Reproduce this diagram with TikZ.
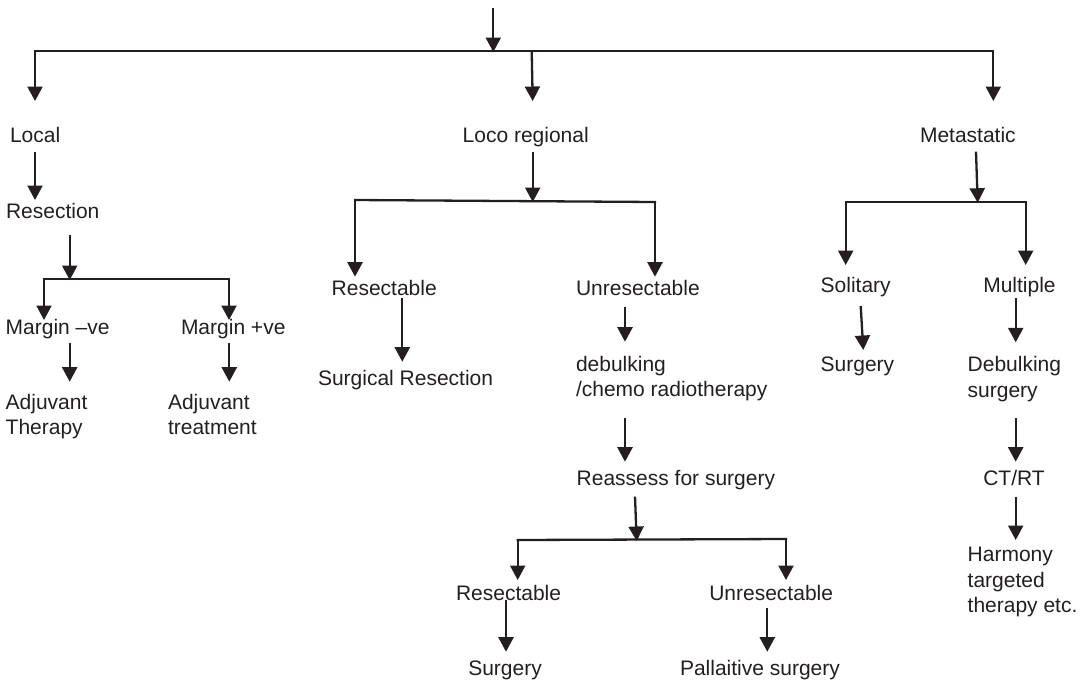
\documentclass[tikz,border=0pt]{standalone}
\usepackage{fontspec}
\setmainfont{Liberation Sans}
\usetikzlibrary{arrows.meta}
\definecolor{ink}{RGB}{35,31,32}
\tikzset{
  lbl/.style={anchor=base west, inner sep=0pt, outer sep=0pt, text=ink,
    font=\fontsize{21}{25.5}\selectfont, align=left},
  arr/.style={draw=ink, line width=2.3pt, -{Triangle[width=15pt,length=14.5pt]}},
  bus/.style={draw=ink, line width=2.3pt, line cap=rect},
}
\begin{document}
\begin{tikzpicture}[x=1pt,y=-1pt]
\useasboundingbox (0,0) rectangle (1085,683);
% ---- text nodes (multi-line nodes are placed at their last baseline)
\node[lbl] (local) at (10,142.7) {Local};
\node[lbl] (loco) at (462.7,142.7) {Loco regional};
\node[lbl] (meta) at (920,142.7) {Metastatic};
\node[lbl] (resection) at (6,218.3) {Resection};
\node[lbl] (mneg) at (5.7,334) {Margin –ve};
\node[lbl] (mpos) at (181,334) {Margin +ve};
\node[lbl] (adj1) at (5.7,434.5) {Adjuvant\\Therapy};
\node[lbl] (adj2) at (168,434.5) {Adjuvant\\treatment};
\node[lbl] (res1) at (331.7,295) {Resectable};
\node[lbl] (unres1) at (576,295) {Unresectable};
\node[lbl] (surgres) at (318,385) {Surgical Resection};
\node[lbl] (debulk) at (576,396.5) {debulking\\/chemo radiotherapy};
\node[lbl] (reassess) at (576.7,485) {Reassess for surgery};
\node[lbl] (res2) at (456,600) {Resectable};
\node[lbl] (unres2) at (709.3,600) {Unresectable};
\node[lbl] (surg2) at (468.3,675) {Surgery};
\node[lbl] (pall) at (680,675) {Pallaitive surgery};
\node[lbl] (solitary) at (820.7,292.7) {Solitary};
\node[lbl] (multiple) at (983.3,292.7) {Multiple};
\node[lbl] (surg3) at (820.7,371.7) {Surgery};
\node[lbl] (debsurg) at (967.7,397) {Debulking\\surgery};
\node[lbl] (ctrt) at (983.3,485) {CT/RT};
\node[lbl] (harmony) at (967.7,612.7) {Harmony\\targeted\\therapy etc.};
% ---- connector points
\coordinate (top0) at (493.3,8);   \coordinate (top1) at (493.3,52);
\coordinate (b1L) at (35,51);      \coordinate (b1R) at (993.3,51);
\coordinate (b1M) at (531.7,51);
\coordinate (localin) at (35,101); \coordinate (locoin) at (532.7,101);
\coordinate (metain) at (993.3,101);
\coordinate (localout) at (35,151.7); \coordinate (resin) at (35,200);
\coordinate (resout) at (69.7,235); \coordinate (b2M) at (69.7,280);
\coordinate (b2L) at (44,279);     \coordinate (b2R) at (229,279);
\coordinate (mnegin) at (44,320);  \coordinate (mposin) at (229,320);
\coordinate (mnegout) at (69.7,343); \coordinate (adj1in) at (69.7,381.7);
\coordinate (mposout) at (229.3,343); \coordinate (adj2in) at (229.3,381.7);
\coordinate (locoout) at (532.7,151.7); \coordinate (b3M) at (532.7,202);
\coordinate (b3L) at (355,200);    \coordinate (b3R) at (655,202);
\coordinate (res1in) at (355,276.7); \coordinate (unres1in) at (655,276.7);
\coordinate (res1out) at (402.3,298); \coordinate (surgresin) at (402.3,361.7);
\coordinate (unres1out) at (625,306.7); \coordinate (debulkin) at (625,341.7);
\coordinate (debulkout) at (625,418); \coordinate (reassin) at (625,461.7);
\coordinate (reassout) at (635,496.7); \coordinate (b4M) at (636.7,541);
\coordinate (b4L) at (517.7,540);  \coordinate (b4R) at (786,539);
\coordinate (res2in) at (517.7,580); \coordinate (unres2in) at (786,580);
\coordinate (res2out) at (506,600); \coordinate (surg2in) at (506,651.7);
\coordinate (unres2out) at (767.3,608.3); \coordinate (pallin) at (767.3,651.7);
\coordinate (metaout) at (976,151.7); \coordinate (b5M) at (977.7,202.7);
\coordinate (b5L) at (845.7,201.7); \coordinate (b5R) at (1025.7,201.7);
\coordinate (solin) at (845.7,265); \coordinate (mulin) at (1025.7,265);
\coordinate (solout) at (860.7,306); \coordinate (surg3in) at (863.3,350);
\coordinate (mulout) at (1015.7,298.3); \coordinate (debsin) at (1015.7,342.3);
\coordinate (debsout) at (1015.7,418.3); \coordinate (ctrtin) at (1015.7,461.7);
\coordinate (ctrtout) at (1015.7,496.7); \coordinate (harmin) at (1015.7,540);
% ---- buses
\draw[bus] (b1L) -- (b1R);
\draw[bus] (b2L) -- (b2R);
\draw[bus] (b3L) -- (b3R);
\draw[bus] (b4L) -- (b4R);
\draw[bus] (b5L) -- (b5R);
% ---- arrows
\draw[arr] (top0) -- (top1);
\draw[arr] (b1L) -- (localin);
\draw[arr] (b1M) -- (locoin);
\draw[arr] (b1R) -- (metain);
\draw[arr] (localout) -- (resin);
\draw[arr] (resout) -- (b2M);
\draw[arr] (b2L) -- (mnegin);
\draw[arr] (b2R) -- (mposin);
\draw[arr] (mnegout) -- (adj1in);
\draw[arr] (mposout) -- (adj2in);
\draw[arr] (locoout) -- (b3M);
\draw[arr] (b3L) -- (res1in);
\draw[arr] (b3R) -- (unres1in);
\draw[arr] (res1out) -- (surgresin);
\draw[arr] (unres1out) -- (debulkin);
\draw[arr] (debulkout) -- (reassin);
\draw[arr] (reassout) -- (b4M);
\draw[arr] (b4L) -- (res2in);
\draw[arr] (b4R) -- (unres2in);
\draw[arr] (res2out) -- (surg2in);
\draw[arr] (unres2out) -- (pallin);
\draw[arr] (metaout) -- (b5M);
\draw[arr] (b5L) -- (solin);
\draw[arr] (b5R) -- (mulin);
\draw[arr] (solout) -- (surg3in);
\draw[arr] (mulout) -- (debsin);
\draw[arr] (debsout) -- (ctrtin);
\draw[arr] (ctrtout) -- (harmin);
\end{tikzpicture}
\end{document}
